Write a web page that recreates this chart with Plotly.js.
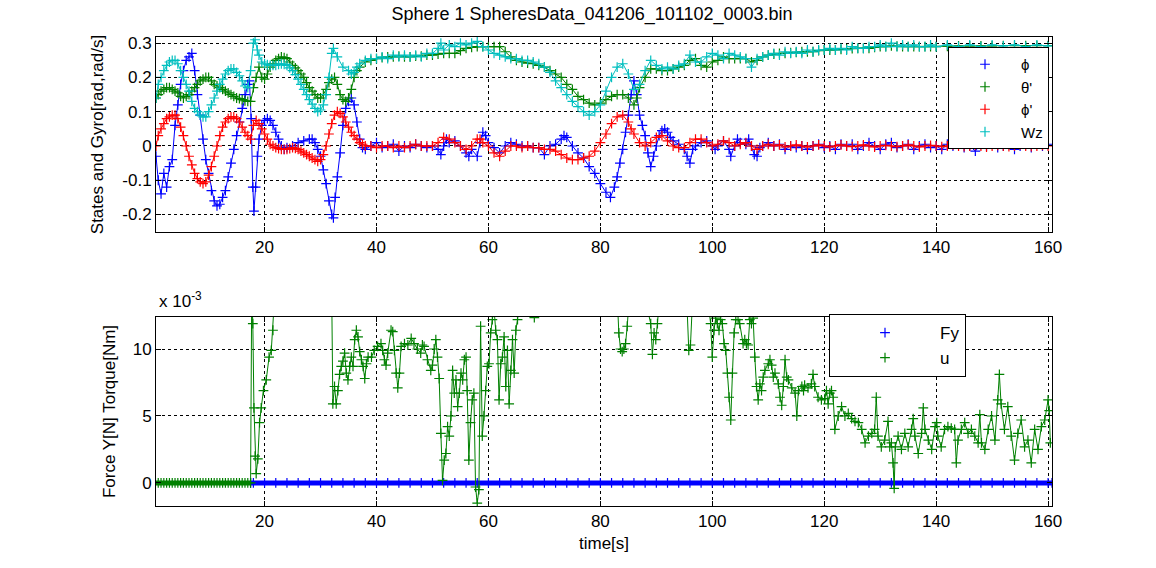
<!DOCTYPE html>
<html><head><meta charset="utf-8">
<script src="https://cdn.plot.ly/plotly-3.0.1.min.js"></script>
<style>html,body{margin:0;padding:0;background:#fff;}#chart{width:1156px;height:568px;}</style>
</head><body><div id="chart"></div>
<script>
// ---- Top panel series: [time s, value] ----
const phi = [[0.6,-0.03],[1,-0.1],[1.5,-0.14],[2,-0.08],[2.5,-0.12],[3,-0.06],[3.5,-0.04],[4,0.06],[4.5,0.12],[5,0.18],[5.5,0.22],[6,0.25],[6.5,0.26],[7,0.27],[7.5,0.22],[8,0.15],[8.5,0.09],[9,0.02],[9.5,-0.04],[10,-0.08],[10.5,-0.13],[11,-0.16],[11.5,-0.175],[12,-0.17],[12.5,-0.15],[13,-0.13],[13.5,-0.09],[14,-0.05],[14.5,-0.01],[15,0.03],[15.5,0.07],[16,0.11],[16.5,0.15],[17,0.18],[17.3,0.19],[17.6,0.08],[17.9,-0.12],[18.1,-0.19],[18.4,-0.12],[18.7,-0.03],[19,0.02],[19.5,0.06],[20,0.075],[20.5,0.08],[21,0.075],[21.5,0.06],[22,0.04],[22.5,0.02],[23,0],[23.5,-0.01],[24,-0.005],[25,0],[26,0.01],[27,0.015],[28,0.02],[28.5,0.02],[29,0.01],[29.5,-0.01],[30,-0.03],[30.5,-0.07],[31,-0.11],[31.5,-0.16],[32,-0.2],[32.3,-0.21],[32.6,-0.15],[33,-0.09],[33.5,-0.02],[34,0.06],[34.5,0.11],[35,0.13],[35.5,0.14],[36,0.12],[36.5,0.07],[37,0.02],[37.5,-0.005],[38,-0.01],[39,0],[40,0.01],[41,-0.005],[42,0],[43,0.005],[44,-0.015],[45,0],[46,-0.005],[47,0.005],[48,0],[49,-0.005],[50,0],[51,-0.01],[51.5,-0.025],[52,0],[52.5,0.02],[53,0.01],[54,0.015],[55,0],[56,-0.02],[56.5,-0.03],[57,-0.01],[58,-0.03],[58.5,0.01],[59,0.04],[59.5,0.03],[60,0.01],[61,-0.005],[62,-0.02],[63,0],[64,0.01],[65,0.005],[66,0],[67,0],[68,-0.005],[69,-0.005],[70,-0.025],[71,0],[72,0.005],[73,0.02],[73.5,0.03],[74,0.025],[75,0],[76,-0.02],[77,-0.035],[78,-0.06],[79,-0.08],[80,-0.11],[81,-0.135],[81.8,-0.15],[82.5,-0.12],[83,-0.09],[83.5,-0.05],[84,-0.01],[84.5,0.04],[85,0.09],[85.5,0.15],[86,0.19],[86.5,0.15],[87,0.09],[87.5,0.06],[88,0.03],[88.5,-0.02],[89,-0.06],[89.5,-0.03],[90,0],[90.5,0.03],[91,0.045],[91.5,0.05],[92,0.04],[92.5,0.025],[93,0.015],[94,0.005],[95,-0.01],[95.5,-0.03],[96,-0.05],[96.5,-0.01],[97,0],[98,0.01],[99,0.015],[100,0],[100.5,-0.01],[101,0],[102,0.015],[103,-0.01],[103.3,-0.03],[104,0],[104.5,0.02],[105,0.01],[106,0.005],[106.5,0.02],[107,0],[107.5,-0.025],[108,-0.03],[108.5,-0.005],[109,0],[110,0.01],[111,0],[112,0.005],[113,-0.01],[114,0],[115,-0.005],[116,0],[117,-0.01],[118,0],[119,0.005],[120,-0.005],[121,0],[122,-0.01],[123,0.005],[124,0],[125,0.005],[126,-0.01],[127,0],[128,0.01],[129,0],[130,-0.01],[131,0.005],[132,0.01],[133,-0.005],[134,0],[135,0.005],[136,-0.01],[137,0],[138,0.005],[139,-0.005],[140,0],[141,-0.01],[142,0.005],[143,0],[144,0.01],[145,-0.005],[146,0],[147,-0.015],[148,0.005],[149,0],[150,0.01],[151,-0.005],[152,0],[153,0.005],[154,-0.01],[155,0],[156,0.005],[157,-0.005],[158,0.01],[159,0],[160,0.005]];

const thetaDot = [[0.6,0.14],[1,0.15],[1.5,0.16],[2,0.165],[2.5,0.17],[3,0.17],[3.5,0.165],[4,0.16],[4.5,0.155],[5,0.145],[5.5,0.14],[6,0.145],[6.5,0.15],[7,0.16],[7.5,0.17],[8,0.18],[8.5,0.19],[9,0.195],[9.5,0.2],[10,0.2],[10.5,0.19],[11,0.18],[11.5,0.175],[12,0.17],[12.5,0.165],[13,0.16],[13.5,0.155],[14,0.15],[14.5,0.145],[15,0.14],[15.5,0.138],[16,0.135],[16.5,0.132],[17,0.13],[17.5,0.13],[18,0.17],[18.5,0.2],[19,0.23],[19.5,0.2],[20,0.195],[20.5,0.21],[21,0.23],[21.5,0.24],[22,0.25],[22.5,0.255],[23,0.26],[23.5,0.258],[24,0.255],[24.5,0.245],[25,0.235],[25.5,0.228],[26,0.22],[26.5,0.21],[27,0.2],[27.5,0.185],[28,0.17],[28.5,0.16],[29,0.15],[29.5,0.14],[30,0.14],[30.5,0.15],[31,0.165],[31.5,0.185],[32,0.195],[32.5,0.2],[33,0.18],[33.5,0.15],[34,0.135],[34.5,0.13],[35,0.14],[35.5,0.165],[36,0.2],[36.5,0.22],[37,0.23],[38,0.245],[39,0.25],[40,0.255],[41,0.258],[42,0.26],[43,0.26],[44,0.262],[45,0.26],[46,0.26],[47,0.262],[48,0.262],[49,0.265],[50,0.265],[51,0.268],[52,0.27],[53,0.27],[54,0.27],[55,0.278],[56,0.285],[57,0.288],[58,0.29],[59,0.29],[60,0.29],[61,0.29],[62,0.29],[63,0.275],[64,0.26],[65,0.25],[66,0.245],[67,0.242],[68,0.24],[69,0.235],[70,0.23],[71,0.22],[72,0.21],[73,0.2],[74,0.18],[75,0.165],[76,0.145],[77,0.135],[78,0.125],[79,0.12],[80,0.125],[81,0.135],[82,0.145],[83,0.15],[84,0.15],[85,0.14],[86,0.12],[86.5,0.14],[87,0.17],[88,0.2],[89,0.225],[90,0.225],[91,0.22],[92,0.22],[93,0.225],[94,0.23],[95,0.235],[96,0.25],[97,0.255],[98,0.235],[99,0.23],[100,0.245],[101,0.25],[102,0.26],[103,0.255],[104,0.255],[105,0.255],[106,0.255],[107,0.245],[108,0.25],[109,0.26],[110,0.265],[111,0.268],[112,0.27],[113,0.27],[114,0.272],[115,0.273],[116,0.275],[117,0.275],[118,0.275],[119,0.278],[120,0.28],[121,0.28],[122,0.28],[123,0.282],[124,0.283],[125,0.284],[126,0.285],[127,0.285],[128,0.285],[129,0.288],[130,0.29],[131,0.29],[132,0.292],[133,0.291],[134,0.29],[135,0.29],[136,0.29],[137,0.29],[138,0.29],[139,0.29],[140,0.29],[142,0.291],[144,0.292],[146,0.292],[148,0.292],[150,0.292],[152,0.293],[154,0.293],[156,0.293],[158,0.293],[160,0.293]];

const phiDot = [[0.6,0],[1,0.03],[1.5,0.05],[2,0.065],[2.5,0.08],[3,0.085],[3.5,0.09],[4,0.09],[4.5,0.08],[5,0.055],[5.5,0.03],[6,0],[6.5,-0.03],[7,-0.055],[7.5,-0.08],[8,-0.095],[8.5,-0.105],[9,-0.11],[9.5,-0.105],[10,-0.085],[10.5,-0.06],[11,-0.03],[11.5,0],[12,0.03],[12.5,0.055],[13,0.07],[13.5,0.08],[14,0.085],[14.5,0.085],[15,0.08],[15.5,0.07],[16,0.055],[16.5,0.04],[17,0.03],[17.5,0.02],[18,0.06],[18.5,0.075],[19,0.065],[19.5,0.05],[20,0.035],[20.5,0.02],[21,0.005],[21.5,0],[22,-0.005],[22.5,-0.008],[23,-0.01],[23.5,-0.01],[24,-0.01],[24.5,-0.008],[25,-0.005],[25.5,-0.007],[26,-0.01],[26.5,-0.015],[27,-0.02],[27.5,-0.025],[28,-0.03],[28.5,-0.035],[29,-0.04],[29.5,-0.045],[30,-0.04],[30.5,-0.025],[31,0],[31.5,0.035],[32,0.065],[32.5,0.09],[33,0.1],[33.5,0.095],[34,0.085],[34.5,0.07],[35,0.055],[35.5,0.04],[36,0.03],[36.5,0.02],[37,0.01],[37.5,0.005],[38,0],[39,0],[40,-0.005],[41,0],[42,0],[43,-0.005],[44,0],[45,-0.005],[46,0],[47,0.005],[48,0],[49,0],[50,0],[51,0.01],[52,0.025],[53,0.02],[54,0.01],[55,0],[56,-0.01],[57,0],[58,0.02],[58.5,0.02],[59,0.01],[60,0],[61,-0.02],[62,-0.03],[63,-0.015],[64,0],[65,0],[66,-0.005],[67,0],[68,-0.005],[69,-0.005],[70,-0.01],[71,-0.01],[72,-0.015],[73,-0.025],[74,-0.035],[75,-0.04],[76,-0.04],[77,-0.035],[78,-0.03],[79,-0.015],[80,0.01],[81,0.035],[82,0.065],[83,0.085],[84,0.09],[85,0.07],[85.5,0.05],[86,0.035],[87,0.01],[88,0],[89,0.01],[90,0.025],[91,0.03],[92,0.015],[93,0],[94,-0.005],[95,-0.005],[96,0.01],[97,0.02],[98,0.02],[99,0.01],[100,0],[101,0.005],[102,0.015],[103,0.01],[104,0],[105,0.005],[106,0.01],[107,0],[108,-0.01],[109,0],[110,0.005],[111,0],[112,0.003],[113,-0.003],[114,0],[115,0.003],[116,0],[117,-0.003],[118,0],[119,0.003],[120,0],[121,-0.003],[122,0],[123,0.003],[124,0],[125,-0.002],[126,0],[127,0.003],[128,0],[129,-0.003],[130,0],[131,0.002],[132,0],[133,-0.002],[134,0],[135,0.003],[136,0],[137,-0.003],[138,0],[139,0.002],[140,0],[141,-0.002],[142,0],[143,0.003],[144,0],[145,-0.002],[146,0],[147,0.002],[148,0],[149,-0.003],[150,0],[151,0.002],[152,0],[153,-0.002],[154,0],[155,0.003],[156,0],[157,-0.002],[158,0],[159,0.002],[160,0]];

const wz = [[0.6,0.14],[1,0.18],[1.5,0.2],[2,0.22],[2.5,0.235],[3,0.245],[3.5,0.25],[4,0.25],[4.5,0.24],[5,0.22],[5.5,0.2],[6,0.18],[6.5,0.16],[7,0.13],[7.5,0.11],[8,0.1],[8.5,0.09],[9,0.085],[9.5,0.085],[10,0.1],[10.5,0.12],[11,0.14],[11.5,0.16],[12,0.18],[12.5,0.195],[13,0.21],[13.5,0.22],[14,0.225],[14.5,0.225],[15,0.215],[15.5,0.205],[16,0.19],[16.5,0.175],[17,0.17],[17.5,0.22],[18,0.3],[18.3,0.31],[18.7,0.28],[19,0.265],[19.5,0.245],[20,0.24],[20.5,0.237],[21,0.235],[21.5,0.235],[22,0.235],[22.5,0.238],[23,0.24],[23.5,0.238],[24,0.235],[24.5,0.228],[25,0.22],[25.5,0.208],[26,0.195],[26.5,0.18],[27,0.165],[27.5,0.15],[28,0.135],[28.5,0.122],[29,0.11],[29.5,0.1],[30,0.105],[30.5,0.12],[31,0.15],[31.5,0.2],[32,0.27],[32.3,0.285],[33,0.26],[34,0.23],[35,0.22],[35.5,0.21],[36,0.215],[36.5,0.23],[37,0.24],[38,0.25],[39,0.255],[40,0.255],[41,0.26],[42,0.255],[43,0.265],[44,0.26],[45,0.265],[46,0.26],[47,0.265],[48,0.26],[49,0.27],[50,0.27],[51,0.285],[51.5,0.3],[52,0.28],[53,0.295],[54,0.29],[55,0.3],[56,0.295],[57,0.3],[58,0.305],[59,0.29],[60,0.28],[61,0.27],[62,0.265],[63,0.26],[64,0.255],[65,0.255],[66,0.25],[67,0.25],[68,0.245],[69,0.24],[70,0.23],[71,0.215],[72,0.19],[73,0.17],[74,0.15],[75,0.13],[76,0.115],[77,0.1],[78,0.09],[79,0.1],[80,0.12],[81,0.16],[82,0.2],[83,0.23],[84,0.24],[85,0.21],[86,0.165],[87,0.18],[88,0.22],[89,0.25],[90,0.235],[91,0.225],[92,0.23],[93,0.225],[94,0.235],[95,0.24],[96,0.265],[97,0.245],[98,0.245],[99,0.26],[100,0.27],[101,0.265],[102,0.255],[103,0.27],[104,0.265],[105,0.26],[106,0.255],[107,0.23],[108,0.255],[109,0.26],[110,0.265],[111,0.27],[112,0.265],[113,0.275],[114,0.27],[115,0.275],[116,0.27],[117,0.28],[118,0.275],[119,0.28],[120,0.28],[121,0.285],[122,0.28],[123,0.285],[124,0.28],[125,0.29],[126,0.285],[127,0.285],[128,0.29],[129,0.29],[130,0.295],[131,0.29],[132,0.3],[133,0.29],[134,0.295],[135,0.29],[136,0.295],[137,0.29],[138,0.29],[139,0.295],[140,0.29],[142,0.295],[144,0.29],[146,0.295],[148,0.29],[150,0.295],[152,0.292],[154,0.295],[156,0.29],[158,0.295],[160,0.292]];

// ---- Bottom panel series (values in units of 1e-3) ----
const fy = [[17.5,0],[18,0],[20,0],[22,0],[24,0],[26,0],[28,0],[30,0],[32,0],[34,0],[36,0],[38,0],[40,0],[42,0],[44,0],[46,0],[48,0],[50,0],[52,0],[54,0],[56,0],[58,0],[60,0],[62,0],[64,0],[66,0],[68,0],[70,0],[72,0],[74,0],[76,0],[78,0],[80,0],[82,0],[84,0],[86,0],[88,0],[90,0],[92,0],[94,0],[96,0],[98,0],[100,0],[102,0],[104,0],[106,0],[108,0],[110,0],[112,0],[114,0],[116,0],[118,0],[120,0],[122,0],[124,0],[126,0],[128,0],[130,0],[132,0],[134,0],[136,0],[138,0],[140,0],[142,0],[144,0],[146,0],[148,0],[150,0],[152,0],[154,0],[156,0],[158,0],[160,0],[160.7,0]];

const u = [[0.5,0],[1,0],[1.5,0],[2,0],[2.5,0],[3,0],[3.5,0],[4,0],[4.5,0],[5,0],[5.5,0],[6,0],[6.5,0],[7,0],[7.5,0],[8,0],[8.5,0],[9,0],[9.5,0],[10,0],[10.5,0],[11,0],[11.5,0],[12,0],[12.5,0],[13,0],[13.5,0],[14,0],[14.5,0],[15,0],[15.5,0],[16,0],[16.5,0],[17,0],[17.5,0],
[17.7,14],[17.9,11.9],[18.1,5.6],[18.3,2.0],[18.5,0.7],[18.8,1.8],[19.1,4.5],[19.4,5.6],[19.8,6.9],[20.3,7.7],[20.8,9.4],[21.2,9.9],[21.5,11.4],[21.8,14],[25,16],[29,15],[32,14],
[32.2,5.9],[32.5,7.2],[32.8,5.9],[33.1,6.9],[33.4,8.1],[33.7,8.7],[34.0,9.1],[34.3,9.7],[34.6,8.2],[34.9,7.7],[35.2,8.7],[35.5,9.4],[35.8,8.7],[36.1,10.7],[36.4,11.4],[36.7,10.9],[37.0,9.8],[37.3,9.2],[37.6,8.7],[37.9,7.8],[38.2,8.9],[38.5,9.4],[39.1,9.4],[39.6,9.9],[40.2,10.2],[40.8,10.4],[41.1,9.9],[41.4,9.2],[41.7,8.8],[42.0,9.7],[42.6,11.4],[42.9,11.3],[43.2,9.9],[43.5,8.2],[43.8,7.1],[44.1,8.2],[44.4,10.2],[45.0,10.4],[45.6,10.3],[46.2,10.8],[46.7,10.4],[47.3,10.0],[47.9,9.7],[48.2,10.3],[48.5,10.2],[49.1,9.2],[49.7,8.4],[50.0,8.8],[50.3,10.0],[50.6,10.7],[50.9,9.4],[51.2,7.8],[51.5,3.7],[51.8,0.2],[52.1,1.7],[52.4,2.2],
[52.7,4.2],[53.0,3.5],[53.3,5.0],[53.6,8.4],[53.9,6.7],[54.2,7.7],[54.5,5.7],[54.8,6.7],[55.1,8.2],[55.4,7.7],[55.7,9.2],[56.0,9.4],[56.2,6.9],[56.5,1.7],[56.8,4.5],[57.1,6.2],[57.4,6.7],[57.7,-0.3],[58.0,-1.5],[58.3,-0.5],[58.6,11.7],[58.9,3.5],[59.2,5.0],[59.5,6.9],[59.8,8.7],[60.1,8.9],[60.4,11.2],[60.7,12.2],[61.0,13],[61.3,11.4],[61.6,10.7],[61.9,6.2],[62.2,8.9],[62.5,9.4],[62.8,10.9],[63.1,7.2],[63.4,9.9],[63.7,5.9],[64.0,8.4],[64.3,10.7],[64.6,8.2],[64.9,11.4],[65.2,12.2],[65.5,13.5],[67,15],[68.2,12.35],[68.5,14],[75,17],
[83.0,14],[83.3,11.2],[83.6,10.0],[83.9,9.8],[84.2,10.0],[84.5,10.4],[84.8,11.7],[85.1,13.5],[87,15],[88.4,13],[89.0,11.9],[89.3,9.6],[89.6,11.2],[89.9,10.7],[90.2,11.9],[90.6,14],[93,16],[95.5,13],[95.8,9.9],[96.1,10.3],[96.4,13],[97.5,15],
[99.4,13],[99.7,11.9],[100.0,9.4],[100.3,11.4],[100.6,12.3],[100.9,11.9],[101.2,11.4],[101.5,12.2],[101.8,11.9],[102.1,10.4],[102.4,9.9],[102.7,8.2],[103.0,6.4],[103.3,4.7],[103.6,8.2],[103.9,11.2],[104.2,12.2],[104.6,12.2],[104.9,11.9],[105.5,10.4],[105.8,10.7],[106.1,10.4],[106.4,10.3],[106.7,12.2],[107.0,11.9],[107.3,12.3],[107.6,9.4],[107.9,7.2],[108.2,6.2],[108.5,7.4],[108.8,6.9],[109.1,7.9],[109.4,8.4],[110.0,8.9],[110.3,9.2],[110.6,8.8],[110.9,7.9],[111.2,8.2],[111.8,7.4],[112.1,6.4],[112.4,5.8],[112.7,7.2],[113.0,9.2],[113.3,7.9],[113.6,7.7],[114.2,7.1],[114.8,6.7],[115.1,5.0],[115.4,6.9],[116.0,7.2],[116.3,6.9],[116.5,7.3],[117.1,7.1],[117.7,7.4],[118.0,8.1],[118.3,7.2],[118.9,6.4],[119.5,6.2],[120.1,6.3],[120.4,6.9],[120.7,5.9],[121.0,6.7],[121.3,6.9],[121.6,6.4],[121.9,4.0],[122.5,5.0],[123.1,5.7],[123.7,5.0],[124.3,5.2],[124.9,4.8],[125.5,4.6],[126.1,4.5],[126.7,4.0],[127.3,3.0],[127.9,3.5],[128.5,3.7],[129.0,4.0],[129.3,6.4],[129.6,3.5],[130.2,2.7],[130.8,3.2],[131.4,4.6],[131.7,2.7],[132.0,3.0],[132.3,1.5],[132.5,-0.4],[132.7,2.7],[133.2,3.5],[133.8,2.5],[134.4,3.7],[135.0,2.7],[135.6,4.0],[135.9,4.8],[136.2,3.5],[136.8,2.2],[137.4,3.7],[137.7,5.6],[138.0,4.0],[138.6,3.2],[139.2,2.5],[139.8,4.2],[140.1,4.5],[140.3,3.5],[140.9,2.7],[141.5,4.0],[142.1,4.2],[142.7,4.1],[143.3,4.0],[143.6,1.5],[143.9,3.2],[144.5,4.0],[145.1,4.5],[145.7,3.7],[146.3,4.0],[146.9,3.5],[147.5,3.0],[147.8,5.1],[148.1,3.0],[148.7,2.5],[149.3,4.0],[149.9,5.0],[150.5,3.2],[151.0,6.2],[151.3,8.1],[151.6,5.9],[152.2,4.0],[152.8,5.7],[153.4,3.5],[154.0,1.7],[154.6,3.7],[155.2,4.7],[155.8,2.7],[156.4,3.2],[157.0,1.5],[157.6,4.0],[158.2,2.5],[158.8,4.2],[159.4,4.7],[160.0,6.2],[160.2,5.4],[160.4,3.0]];

const topNames = ['\u03d5', '\u03b8\'', '\u03d5\'', 'Wz'];
const bottomNames = ['Fy', 'u'];
const xTicks = [20, 40, 60, 80, 100, 120, 140, 160];
const yTopTicks = [-0.2, -0.1, 0, 0.1, 0.2, 0.3];
const yTopTickText = ['-0.2', '-0.1', '0', '0.1', '0.2', '0.3'];
const yBotTicks = [0, 5, 10];

const COL = {blue:'#0000ff', green:'#008000', red:'#ff0000', cyan:'#00bfbf'};
const FONT = '"Liberation Sans", Arial, sans-serif';

function lineTrace(data, color, xa, ya, lw) {
  return {x:data.map(p => p[0]), y:data.map(p => p[1]), xaxis:xa, yaxis:ya, type:'scatter',
          mode:'lines', line:{color, width:lw||1}, showlegend:false, hoverinfo:'skip'};
}
function markTrace(data, name, color, xa, ya, leg) {
  return {x:data.map(p => p[0]), y:data.map(p => p[1]), xaxis:xa, yaxis:ya, type:'scatter',
          mode:'markers', name, legend:leg,
          marker:{symbol:'cross-thin', size:7, color, line:{color, width:1.2}}};
}
function series(data, name, color, xa, ya, leg, lw) {
  return [lineTrace(data, color, xa, ya, lw), markTrace(data, name, color, xa, ya, leg)];
}

// the leading run of u at zero is drawn as a dense band, like the original
const uZeroRun = u.filter(p => p[0] <= 17.5);

const traces = [].concat(
  series(phi, topNames[0], COL.blue, 'x', 'y', 'legend'),
  series(thetaDot, topNames[1], COL.green, 'x', 'y', 'legend'),
  series(phiDot, topNames[2], COL.red, 'x', 'y', 'legend'),
  series(wz, topNames[3], COL.cyan, 'x', 'y', 'legend'),
  series(fy, bottomNames[0], COL.blue, 'x2', 'y2', 'legend2', 5),
  [lineTrace(uZeroRun, COL.green, 'x2', 'y2', 5)],
  series(u, bottomNames[1], COL.green, 'x2', 'y2', 'legend2')
);

const axBase = {
  showline:true, linecolor:'#000', linewidth:1, mirror:'ticks',
  ticks:'inside', ticklen:5, tickcolor:'#000',
  showgrid:true, gridcolor:'#000', gridwidth:1, griddash:'3px,3px',
  zeroline:false, tickfont:{family:FONT, size:17, color:'#000'}
};
const xDom = [156/1156, 1052/1156];

const layout = {
  width:1156, height:568, margin:{l:0, r:0, t:0, b:0},
  paper_bgcolor:'#fff', plot_bgcolor:'#fff',
  font:{family:FONT, size:17, color:'#000'},
  title:{text:'Sphere 1 SpheresData_041206_101102_0003.bin', x:592/1156, xanchor:'center',
         y:1-14/568, yanchor:'middle', font:{family:FONT, size:18, color:'#000'}},
  xaxis:Object.assign({}, axBase, {domain:xDom, anchor:'y', range:[0.6,160.7], tickvals:xTicks}),
  yaxis:Object.assign({}, axBase, {domain:[(568-232)/568, (568-37)/568], anchor:'x', range:[-0.251,0.318],
         tickvals:yTopTicks, ticktext:yTopTickText,
         title:{text:'States and Gyro[rad,rad/s]', font:{family:FONT, size:17}, standoff:14}}),
  xaxis2:Object.assign({}, axBase, {domain:xDom, anchor:'y2', range:[0.6,160.7], tickvals:xTicks,
         title:{text:'time[s]', font:{family:FONT, size:17}, standoff:6}}),
  yaxis2:Object.assign({}, axBase, {domain:[(568-506)/568, (568-317)/568], anchor:'x2', range:[-1.72,12.39],
         tickvals:yBotTicks,
         title:{text:'Force Y[N] Torque[Nm]', font:{family:FONT, size:17}, standoff:12}}),
  legend:{x:948/1156, y:(568-47)/568, xanchor:'left', yanchor:'top', bgcolor:'#fff',
          bordercolor:'#000', borderwidth:1, font:{family:FONT, size:15}, itemwidth:62, tracegroupgap:0},
  legend2:{x:829/1156, y:(568-314)/568, xanchor:'left', yanchor:'top', bgcolor:'#fff',
          bordercolor:'#000', borderwidth:1, font:{family:FONT, size:17}, itemwidth:100, tracegroupgap:0},
  annotations:[{text:'x 10<sup>-3</sup>', xref:'paper', yref:'paper', x:157/1156, y:(568-300)/568,
                xanchor:'left', yanchor:'middle', showarrow:false, font:{family:FONT, size:17, color:'#000'}}]
};

Plotly.newPlot('chart', traces, layout, {staticPlot:true, displayModeBar:false});
</script>
</body></html>
